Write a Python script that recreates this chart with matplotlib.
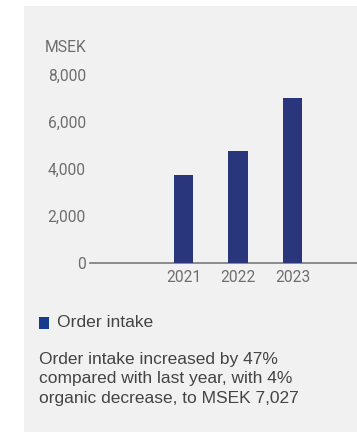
import matplotlib
matplotlib.use("Agg")
import matplotlib.pyplot as plt
from matplotlib.patches import Rectangle

years = ["2021", "2022", "2023"]
order_intake = [3750, 4780, 7027]
y_ticks = [0, 2000, 4000, 6000, 8000]
y_tick_labels = ["0", "2,000", "4,000", "6,000", "8,000"]
unit_label = "MSEK"
legend_label = "Order intake"
caption = ("Order intake increased by 47%\n"
           "compared with last year, with 4%\n"
           "organic decrease, to MSEK 7,027")

W, H = 357, 432
fig = plt.figure(figsize=(W / 100, H / 100), dpi=100)
fig.patch.set_facecolor("white")

# grey card behind everything
fig.patches.append(Rectangle((24 / W, 0), 1, 1 - 6 / H, transform=fig.transFigure,
                             facecolor="#f1f1f1", edgecolor="none", zorder=-10))

ax = fig.add_axes([90 / W, 1 - 263.3 / H, 1 - 90 / W, (263.3 - 75.3) / H])
ax.set_zorder(2)
ax.set_facecolor("none")
x = list(range(len(years)))
ax.bar(x, order_intake, width=0.35, color="#29367b", zorder=3)
ax.set_xlim(-1.716, 3.183)
ax.set_ylim(0, 8000)
ax.set_xticks(x)
ax.set_xticklabels(years)
ax.set_yticks(y_ticks)
ax.set_yticklabels(y_tick_labels)
for s in ["top", "right", "left"]:
    ax.spines[s].set_visible(False)
ax.spines["bottom"].set_color("#7a7a7a")
ax.spines["bottom"].set_linewidth(1.2)
ax.tick_params(axis="both", length=0, labelsize=11.2, labelcolor="#6e6e6e")
ax.tick_params(axis="y", pad=3)
ax.tick_params(axis="x", pad=5)
for lab in ax.get_xticklabels() + ax.get_yticklabels():
    lab.set_fontfamily("Roboto")

fig.text(45 / W, 1 - 48 / H, unit_label, fontsize=11.3, color="#6e6e6e",
         family="Roboto", ha="left", va="center")

# legend swatch and label
fig.patches.append(Rectangle((39 / W, 1 - 328.5 / H), 10 / W, 12 / H,
                             transform=fig.transFigure, facecolor="#173a8c",
                             edgecolor="none", zorder=2))
fig.text(57 / W, 1 - 322.5 / H, legend_label, fontsize=12.6, color="#444444",
         family="Liberation Sans", ha="left", va="center")

fig.text(39 / W, 1 - 352 / H, caption, fontsize=12.5, color="#444444",
         family="Liberation Sans", ha="left", va="top", linespacing=1.36)

fig.savefig("out.png", dpi=100, facecolor=fig.get_facecolor())
